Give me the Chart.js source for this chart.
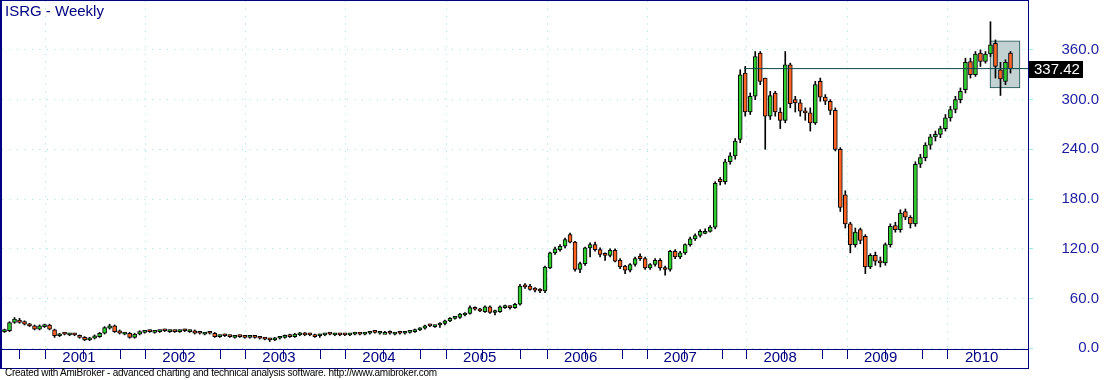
<!DOCTYPE html>
<html>
<head>
<meta charset="utf-8">
<title>ISRG - Weekly</title>
<script src="https://cdn.jsdelivr.net/npm/chart.js@4.4.0/dist/chart.umd.min.js"></script>
<style>
  html, body { margin: 0; padding: 0; background: #fff; }
  #wrap { position: relative; width: 1105px; height: 380px; overflow: hidden; font-family: "Liberation Sans", Arial, sans-serif; }
  #chart { position: absolute; left: 0; top: 0; }
  #frame { position: absolute; left: 0; top: 0; width: 1029px; height: 369px; box-sizing: border-box; border: 1px solid #000080; border-left-width: 2px; pointer-events: none; }
  #axisLine { position: absolute; left: 0; top: 349px; width: 1028px; height: 1px; background: #000080; }
  #title { position: absolute; left: 5px; top: 2px; font-size: 15px; line-height: 17px; color: #000080; }
  #footer { position: absolute; left: 5px; top: 368px; font-size: 10px; line-height: 10px; color: #000; white-space: nowrap; letter-spacing: -0.25px; }
</style>
</head>
<body>
<div id="wrap">
  <canvas id="chart" width="1105" height="368"></canvas>
  <div id="axisLine"></div>
  <div id="frame"></div>
  <div id="title">ISRG - Weekly</div>
  <div id="footer">Created with AmiBroker - advanced charting and technical analysis software. http://www.amibroker.com</div>
</div>
<script>
// weekly candles (sampled), one per slot on the x axis
const opens = [
  20, 21, 31, 34, 32, 29, 27, 23, 26, 28,
  22, 15, 18, 16, 17, 15, 13, 10, 12, 14,
  18, 24, 27, 21, 17, 18, 13, 17, 19, 21,
  19, 20, 22, 20, 21, 20, 22, 20, 21, 19,
  17, 19, 18, 14, 16, 15, 13, 15, 14, 13,
  14, 13, 12, 11, 10, 12, 13, 16, 14, 16,
  18, 17, 16, 15, 16, 18, 16, 17, 17, 16,
  17, 18, 17, 18, 20, 18, 19, 20, 17, 19,
  18, 19, 20, 22, 24, 28, 26, 28, 30, 33,
  36, 37, 40, 42, 49, 47, 44, 50, 43, 44,
  49, 50, 49, 53, 75, 75, 71, 70, 69, 97,
  115, 119, 123, 137, 128, 95, 102, 121, 125, 119,
  113, 112, 118, 106, 99, 94, 101, 111, 108, 97,
  101, 106, 97, 95, 117, 110, 115, 125, 132, 136,
  141, 141, 146, 204, 201, 225, 232, 252, 332, 285,
  304, 356, 326, 280, 308, 285, 275, 342, 300, 296,
  286, 284, 272, 322, 303, 298, 287, 240, 185, 150,
  125, 143, 135, 98, 112, 105, 103, 125, 148, 143,
  165, 158, 150, 222, 230, 245, 255, 258, 265, 278,
  288, 300, 312, 346, 330, 356, 346, 355, 368, 336,
  322, 356
];
const highs = [
  23, 32, 37, 36, 33, 30, 28, 28, 29, 29,
  23, 18, 19, 18, 18, 16, 14, 13, 16, 19,
  26, 29, 28, 22, 19, 19, 18, 21, 21, 22,
  21, 22, 23, 22, 22, 22, 23, 22, 22, 20,
  19, 20, 19, 16, 17, 16, 15, 16, 15, 15,
  15, 14, 13, 12, 13, 14, 16, 17, 18, 19,
  19, 18, 17, 17, 18, 19, 18, 18, 18, 18,
  19, 19, 19, 20, 21, 20, 20, 21, 19, 20,
  20, 21, 23, 25, 28, 29, 28, 31, 34, 37,
  38, 42, 43, 51, 50, 48, 51, 51, 46, 51,
  52, 51, 54, 77, 78, 77, 73, 72, 99, 116,
  122, 125, 133, 139, 129, 104, 122, 127, 128, 121,
  115, 120, 120, 108, 100, 102, 110, 114, 110, 102,
  108, 108, 99, 118, 119, 117, 126, 134, 138, 143,
  144, 148, 201, 206, 228, 236, 253, 336, 340, 308,
  358, 358, 326, 310, 310, 290, 358, 344, 304, 300,
  290, 290, 322, 326, 306, 300, 290, 242, 190, 152,
  145, 145, 137, 114, 116, 110, 127, 150, 152, 167,
  168, 160, 225, 234, 248, 258, 262, 268, 282, 292,
  304, 314, 350, 350, 358, 360, 358, 394, 372, 345,
  348, 358
];
const lows = [
  19, 20, 30, 30, 28, 26, 22, 22, 25, 22,
  13, 14, 16, 15, 15, 12, 9, 9, 11, 13,
  17, 23, 19, 17, 16, 12, 12, 16, 18, 19,
  18, 19, 20, 19, 19, 19, 20, 19, 17, 17,
  16, 17, 13, 13, 14, 13, 12, 13, 12, 12,
  12, 11, 10, 8, 9, 11, 12, 13, 13, 15,
  15, 15, 13, 13, 15, 16, 15, 15, 15, 15,
  16, 16, 16, 17, 18, 17, 18, 17, 16, 17,
  17, 18, 19, 21, 23, 26, 25, 25, 28, 32,
  35, 36, 39, 41, 46, 44, 43, 42, 40, 43,
  48, 47, 48, 52, 72, 70, 68, 67, 67, 96,
  113, 117, 121, 127, 93, 91, 100, 110, 117, 110,
  106, 110, 104, 96, 90, 92, 99, 106, 95, 95,
  99, 94, 88, 93, 108, 108, 113, 123, 130, 134,
  138, 140, 144, 197, 198, 222, 228, 248, 280, 282,
  300, 318, 240, 276, 280, 265, 272, 290, 285, 280,
  275, 262, 270, 298, 294, 282, 238, 165, 145, 115,
  122, 126, 90, 96, 100, 98, 100, 122, 140, 140,
  155, 145, 147, 218, 226, 240, 250, 254, 262, 274,
  284, 296, 308, 326, 328, 340, 344, 352, 326, 305,
  318, 332
];
const closes = [
  22, 31, 35, 31, 29, 27, 23, 27, 28, 23,
  15, 17, 17, 17, 16, 13, 10, 12, 15, 18,
  25, 27, 20, 18, 18, 13, 17, 20, 20, 20,
  20, 21, 21, 21, 20, 21, 21, 21, 18, 18,
  18, 18, 14, 15, 15, 14, 14, 14, 13, 14,
  13, 12, 11, 10, 12, 13, 15, 14, 17, 18,
  16, 16, 14, 16, 17, 17, 17, 16, 16, 17,
  18, 17, 18, 19, 19, 19, 19, 18, 18, 18,
  19, 20, 22, 24, 27, 27, 27, 30, 33, 36,
  37, 41, 42, 49, 47, 45, 50, 43, 44, 50,
  50, 49, 53, 75, 74, 71, 70, 69, 98, 115,
  120, 123, 131, 128, 95, 102, 121, 125, 119, 113,
  112, 118, 105, 98, 94, 101, 108, 108, 97, 101,
  106, 97, 95, 117, 110, 115, 125, 132, 136, 141,
  141, 146, 199, 201, 225, 232, 250, 330, 285, 304,
  352, 322, 280, 305, 285, 275, 342, 295, 296, 286,
  284, 272, 318, 303, 298, 287, 240, 170, 150, 125,
  140, 130, 98, 112, 105, 103, 125, 147, 143, 163,
  158, 150, 222, 230, 245, 255, 258, 265, 278, 288,
  300, 310, 345, 330, 355, 346, 355, 366, 340, 325,
  345, 337.42
];

// axis ticks (x in slot units)
const yearTicks = [10.75, 30.73, 50.71, 70.69, 90.81, 110.97, 130.89, 150.83, 170.91, 191.11];
const yearLabels = ['2001', '2002', '2003', '2004', '2005', '2006', '2007', '2008', '2009', '2010'];
const minorTicks = [0.3, 5.75, 20.74, 25.73, 40.72, 45.71, 60.7, 65.69, 80.68, 85.67,
  100.4, 105.95, 121.02, 125.87, 140.94, 145.8, 161.02, 165.87, 181.0, 185.89];
const priceTicks = [0, 60, 120, 180, 240, 300, 360];

// last close marker line and the shaded zone at the right
const lastClose = closes[closes.length - 1];
const lastLineFrom = 147.8;
const zoneCenter = 199.9;
const zoneRange = [314, 371];

const slotCount = 205;
const navy = '#000080';
const gridCyan = '#9ee6ea';
const upColor = '#2fcc2f';
const downColor = '#ff6424';

const slots = closes.map((_, i) => i);

const lastPriceTag = {
  id: 'lastPriceTag',
  afterDraw(chart) {
    const { ctx, chartArea, scales } = chart;
    const py = Math.round(scales.y.getPixelForValue(lastClose));
    ctx.save();
    ctx.fillStyle = '#000';
    ctx.fillRect(chartArea.right, py - 8, 55, 17);
    ctx.fillStyle = '#fff';
    ctx.font = '15px "Liberation Sans", Arial, sans-serif';
    ctx.textAlign = 'left';
    ctx.textBaseline = 'middle';
    ctx.fillText(lastClose.toFixed(2), chartArea.right + 6, py + 1);
    ctx.restore();
  }
};

new Chart(document.getElementById('chart'), {
  type: 'bar',
  data: {
    datasets: [
      {
        type: 'line',
        data: [{ x: lastLineFrom, y: lastClose }, { x: slotCount - 0.5, y: lastClose }],
        borderColor: '#0c4848',
        borderWidth: 1,
        pointRadius: 0,
        order: 0
      },
      {
        data: slots.map(i => ({ x: i, y: [opens[i], closes[i]] })),
        backgroundColor: ctx => closes[ctx.dataIndex] >= opens[ctx.dataIndex] ? upColor : downColor,
        borderColor: '#000',
        borderWidth: 1,
        borderSkipped: false,
        barThickness: 4,
        minBarLength: 2,
        grouped: false,
        order: 1
      },
      {
        data: slots.map(i => ({ x: i, y: [lows[i], highs[i]] })),
        backgroundColor: '#000',
        borderWidth: 0,
        barThickness: 1,
        minBarLength: 2,
        grouped: false,
        order: 2
      },
      {
        data: [{ x: zoneCenter, y: zoneRange }],
        backgroundColor: '#c2d2d2',
        borderColor: '#1a4c4c',
        borderWidth: 1,
        borderSkipped: false,
        barThickness: 30,
        grouped: false,
        order: 3
      }
    ]
  },
  options: {
    responsive: false,
    animation: false,
    devicePixelRatio: 1,
    layout: { padding: { left: 2, top: 1, right: 6, bottom: 0 } },
    plugins: { legend: { display: false }, tooltip: { enabled: false } },
    scales: {
      x: {
        type: 'linear',
        min: -0.5,
        max: slotCount - 0.5,
        offset: false,
        afterBuildTicks: s => {
          s.ticks = [...yearTicks, ...minorTicks].sort((a, b) => a - b).map(v => ({ value: v }));
        },
        afterFit: s => {
          s.height = 19;
          s.paddingLeft = 0;
          s.paddingRight = 0;
        },
        border: { display: false, dash: [1, 6.5] },
        grid: {
          color: c => (c.tick && yearTicks.includes(c.tick.value)) ? gridCyan : 'rgba(0,0,0,0)',
          borderDash: [1, 6.5],
          tickColor: navy,
          tickLength: 10,
          tickBorderDash: [],
          drawTicks: true
        },
        ticks: {
          autoSkip: false,
          maxRotation: 0,
          align: 'start',
          labelOffset: 4,
          padding: -10,
          color: navy,
          font: { size: 15, family: '"Liberation Sans", Arial, sans-serif' },
          callback: v => {
            const k = yearTicks.indexOf(v);
            return k >= 0 ? yearLabels[k] : '';
          }
        }
      },
      y: {
        type: 'linear',
        position: 'right',
        min: -1,
        max: 419,
        afterBuildTicks: s => { s.ticks = priceTicks.map(v => ({ value: v })); },
        afterFit: s => {
          s.width = 71;
          s.paddingTop = 0;
          s.paddingBottom = 0;
        },
        border: { display: false, dash: [1, 6.5] },
        grid: {
          color: gridCyan,
          borderDash: [1, 6.5],
          tickColor: gridCyan,
          tickLength: 5,
          tickBorderDash: []
        },
        ticks: {
          crossAlign: 'far',
          color: '#1c1ca0',
          font: { size: 15, family: '"Liberation Sans", Arial, sans-serif' },
          callback: v => v.toFixed(1)
        }
      }
    }
  },
  plugins: [lastPriceTag]
});
</script>
</body>
</html>
